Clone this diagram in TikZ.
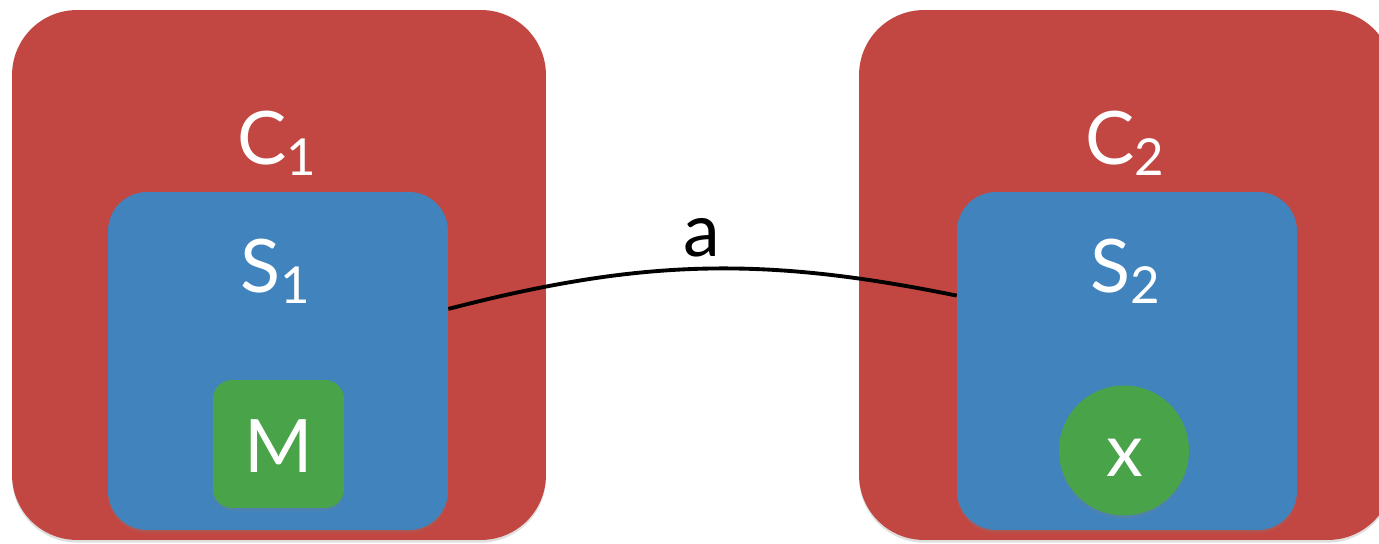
\documentclass[tikz,border=0pt]{standalone}
\usepackage{fontspec}
\setmainfont{Lato}
\usetikzlibrary{shadows}
\definecolor{cellred}{RGB}{194,71,66}
\definecolor{cellblue}{RGB}{65,131,189}
\definecolor{cellgreen}{RGB}{72,163,73}
\newcommand{\lowidx}[1]{\raisebox{-5.7pt}{\fontsize{29}{29}\selectfont#1}}
\tikzset{
  soft/.style={drop shadow={opacity=.25,shadow xshift=0pt,shadow yshift=-1.5pt}},
  cellbox/.style={soft,fill=cellred,rounded corners=1.3cm,
    minimum width=10.68cm,minimum height=10.6cm},
  slotbox/.style={soft,fill=cellblue,rounded corners=.78cm,
    minimum width=6.8cm,minimum height=6.76cm},
  itembox/.style={soft,fill=cellgreen,rounded corners=.38cm,
    minimum width=2.62cm,minimum height=2.56cm},
  itemdot/.style={soft,fill=cellgreen,circle,minimum size=2.6cm},
  lbl/.style={text=white,font=\fontsize{42}{50}\selectfont,anchor=base,inner sep=0pt},
}
\begin{document}
\begin{tikzpicture}[x=.02cm,y=.02cm]
  \clip(0,0)rectangle(1379,544);
  \fill[white](0,0)rectangle(1379,544);
  \node[cellbox](c1) at(279,269){};
  \node[cellbox](c2) at(1126,269){};
  \node[slotbox](s1) at(278,183){};
  \node[slotbox](s2) at(1127,183){};
  \node[itembox](m) at(278.5,100){};
  \node[itemdot](x) at(1124,93.5){};
  \foreach \n/\t/\x/\y in{%
    c1lab/C\lowidx{1}/276.5/379, c2lab/C\lowidx{2}/1125/379,
    s1lab/S\lowidx{1}/275/251, s2lab/S\lowidx{2}/1125/251,
    mlab/M/279/71, xlab/x/1124.5/67}{%
    \node[lbl](\n) at(\x,\y){\t};
  }
  \draw[line width=2.2pt](s1.17)to[bend left=13]
    node[midway,above=.2cm,inner sep=0pt,font=\fontsize{42}{50}\selectfont](alab){a}(s2.159);
\end{tikzpicture}
\end{document}
